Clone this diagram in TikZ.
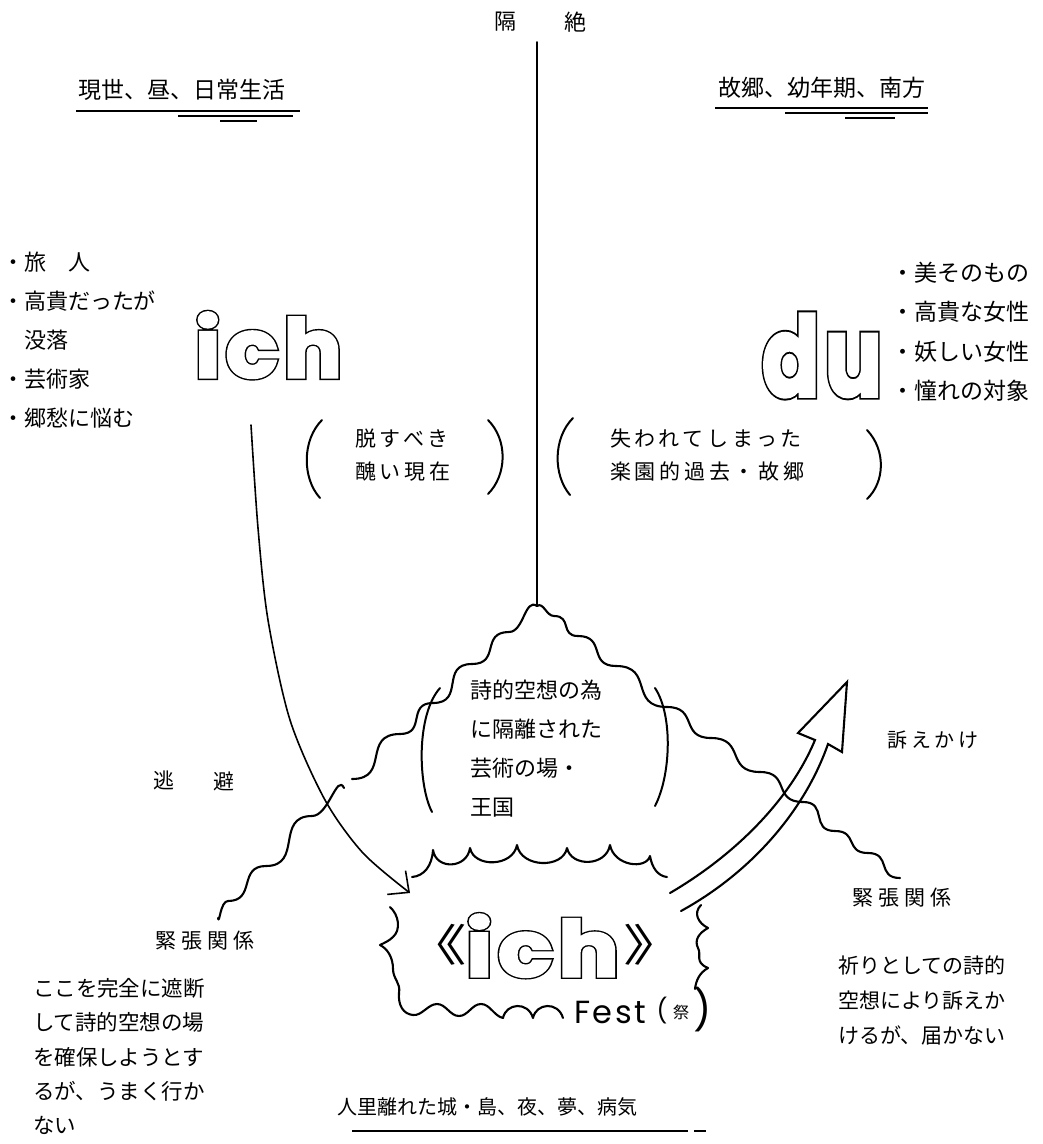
\documentclass[tikz,border=0pt]{standalone}
\usepackage{fontspec}
\usetikzlibrary{arrows.meta}
\setmainfont{Noto Sans CJK JP}
\newfontfamily\jp{Noto Sans CJK JP}
\newfontfamily\jpsp[LetterSpace=18]{Noto Sans CJK JP}
\newfontfamily\jpwide[LetterSpace=25]{Noto Sans CJK JP}
\newfontfamily\olbk[FakeBold=6.5,LetterSpace=6]{Poppins}
\newfontfamily\olwh[FakeBold=3,LetterSpace=6]{Poppins}
\newfontfamily\festfont[LetterSpace=8]{Poppins}
\newcommand\jsz[2]{\fontsize{#1}{#2}\selectfont}
\begin{document}
\begin{tikzpicture}[x=1pt,y=-1pt,
  wav/.style={line width=2.1pt, line cap=round, line join=round},
  thn/.style={line width=1.6pt, line cap=round},
  brk/.style={line width=2pt, line cap=round},
  ul/.style={line width=2.2pt},
  tx/.style={inner sep=0pt, outer sep=0pt},
  jt/.style={tx, font=\jp\jsz{21}{21}},
  jsp/.style={tx, font=\jpsp\jsz{21}{21}},
  olb/.style={tx, anchor=south west, text=black, font=\olbk\bfseries},
  olw/.style={tx, anchor=south west, text=white, font=\olwh\bfseries}]
\fill[white] (0,0) rectangle (1043,1144);
\useasboundingbox (0,0) rectangle (1043,1144);

% ---- top
\node[jt, font=\jp\jsz{22}{22}] (kaku) at (505,22) {隔};
\node[jt, font=\jp\jsz{22}{22}] (zetsu) at (575,22) {絶};
\coordinate (vtop) at (537,42);
\coordinate (peak) at (537,606);
\draw[thn] (vtop) -- (peak);

\node[jt, font=\jp\jsz{23}{23}] (genze) at (182,90) {現世、昼、日常生活};
\draw[ul] (76,111) -- (300,111);
\draw[ul] (178,116) -- (293,116);
\draw[ul] (220,121) -- (257,121);
\node[jt, font=\jp\jsz{23}{23}] (kokyo) at (822,88) {故郷、幼年期、南方};
\draw[ul] (715,108) -- (928,108);
\draw[ul] (785,113) -- (928,113);
\draw[ul] (845,118) -- (895,118);

% ---- lists
\node[jt, anchor=west, align=left, font=\jp\jsz{22}{39}] (ichlist) at (2,340)
  {・旅　人\\・高貴だったが\\\phantom{・}没落\\・芸術家\\・郷愁に悩む};
\node[jt, anchor=west, align=left, font=\jp\jsz{23}{39.5}] (dulist) at (891,332)
  {・美そのもの\\・高貴な女性\\・妖しい女性\\・憧れの対象};

% ---- outlined words
\node[olb] (ichB) at (195,378) {\resizebox{147pt}{65pt}{ich}};
\node[olw] (ich) at (195,378) {\resizebox{147pt}{65pt}{ich}};
\node[olb] (duB) at (762,397) {\resizebox{120pt}{82pt}{du}};
\node[olw] (du) at (762,397) {\resizebox{120pt}{82pt}{du}};

% ---- bracketed texts
\node[jsp, anchor=west, align=left, font=\jpsp\jsz{21}{33}] (present) at (355,455) {脱すべき\\醜い現在};
\draw[brk] (322,420) .. controls (302,440) and (302,478) .. (320,498);
\draw[brk] (488,420) .. controls (508,440) and (507,475) .. (488,494);
\node[jsp, anchor=west, align=left, font=\jpsp\jsz{21}{33}] (past) at (610,455) {失われてしまった\\楽園的過去・故郷};
\draw[brk] (573,418) .. controls (553,438) and (553,475) .. (570,495);
\draw[brk] (867,430) .. controls (886,450) and (885,482) .. (867,499);

% ---- mountain
\coordinate (lEndA) at (352,779);
\coordinate (lStartB) at (344,788);
\coordinate (lEnd) at (218,918);
\coordinate (rEnd) at (900,878);
\draw[wav] (peak) to[out=35,in=180] (554,616)
  to[out=0,in=180,looseness=1.5] (578,636)
  to[out=0,in=180,looseness=1.5] (616,666)
  to[out=0,in=180,looseness=1.5] (667,707)
  to[out=0,in=180,looseness=1.5] (711,738)
  to[out=0,in=180,looseness=1.5] (760,772)
  to[out=0,in=180,looseness=1.5] (803,802)
  to[out=0,in=180,looseness=1.5] (835,831)
  to[out=0,in=180,looseness=1.5] (868,853)
  to[out=0,in=180,looseness=1.5] (rEnd);
\draw[wav] (peak) to[out=145,in=0] (509,632)
  to[out=180,in=0,looseness=1.5] (472,664)
  to[out=180,in=0,looseness=1.5] (433,703)
  to[out=180,in=0,looseness=1.5] (400,734)
  to[out=180,in=0,looseness=1.5] (lEndA);
\draw[wav] (lStartB) to[out=115,in=0] (312,816)
  to[out=180,in=0,looseness=1.4] (266,866)
  to[out=180,in=0,looseness=1.4] (228,901)
  to[out=180,in=-80] (lEnd);

\node[jt, anchor=west, align=left, font=\jp\jsz{22}{39}] (realm) at (470,748.5)
  {詩的空想の為\\に隔離された\\芸術の場・\\王国};
\draw[brk] (440,688) .. controls (416,715) and (418,785) .. (432,812);
\draw[brk] (655,688) .. controls (673,715) and (671,775) .. (655,806);
\draw[wav] (412,877) .. controls (424,876) and (432,866) .. (433,850)
  .. controls (436,870) and (467,869) .. (470,848)
  .. controls (474,868) and (513,867) .. (517,845)
  .. controls (521,868) and (563,869) .. (567,848)
  .. controls (571,867) and (606,867) .. (610,845)
  .. controls (614,866) and (646,870) .. (650,856)
  .. controls (652,868) and (658,876) .. (667,877);

% ---- side labels
\node[jt] (to) at (164,780) {逃};
\node[jt] (hi) at (224,781) {避};
\node[jsp, font=\jpsp\jsz{20}{20}] (uttae) at (933,740) {訴えかけ};
\node[tx, font=\jpwide\jsz{21}{21}] (kinchoL) at (205,941) {緊張関係};
\node[tx, font=\jpwide\jsz{21}{21}] (kinchoR) at (902,898) {緊張関係};
\node[jt, anchor=west, align=left, font=\jp\jsz{21.5}{34.3}] (noteL) at (33,1056.5)
  {ここを完全に遮断\\して詩的空想の場\\を確保しようとす\\るが、うまく行か\\ない};
\node[jt, anchor=west, align=left, font=\jp\jsz{21}{35}] (noteR) at (838,1000)
  {祈りとしての詩的\\空想により訴えか\\けるが、届かない};
\node[jt, font=\jp\jsz{20}{20}] (bottom) at (487,1107) {人里離れた城・島、夜、夢、病気};
\draw[ul] (352,1131) -- (688,1131);
\draw[ul] (694,1131) -- (706,1131);

% ---- Fest
\node[jt, font=\jp\jsz{44}{44}] (lq) at (436,945) {\scalebox{1.4}[1]{《}};
\node[olb] (ich2B) at (466,977) {\resizebox{153pt}{62pt}{ich}};
\node[olw] (ich2) at (466,977) {\resizebox{153pt}{62pt}{ich}};
\node[jt, font=\jp\jsz{44}{44}] (rq) at (654,945) {\scalebox{1.4}[1]{》}};
\node[tx, anchor=base west, font=\festfont\jsz{32}{32}] (fest) at (574,1023) {Fest};
\node[tx, font=\festfont\jsz{24}{24}] (po) at (662,1011) {(};
\node[jt, font=\jp\jsz{16}{16}] (matsuri) at (681,1012) {祭};
\node[tx, font=\festfont\jsz{40}{40}] (pc) at (703,1010) {)};
\draw[wav] (390,907) .. controls (399,915) and (401,930) .. (393,937)
  .. controls (389,941) and (384,943) .. (380,945)
  .. controls (388,949) and (393,958) .. (393,969)
  .. controls (393,979) and (401,983) .. (399,993)
  .. controls (398,1005) and (403,1014) .. (413,1015)
  .. controls (422,1016) and (428,1004) .. (437,1004)
  .. controls (446,1004) and (450,1016) .. (459,1016)
  .. controls (468,1016) and (472,1004) .. (481,1004)
  .. controls (490,1004) and (494,1016) .. (503,1018)
  .. controls (506,1003) and (528,1001) .. (533,1018)
  .. controls (536,1003) and (558,1001) .. (563,1018);
\draw[wav] (701,905) .. controls (693,913) and (698,923) .. (708,928)
  .. controls (699,933) and (694,940) .. (698,948)
  .. controls (702,955) and (694,962) .. (708,968)
  .. controls (699,973) and (696,981) .. (695,989);

% ---- arrows
\coordinate (ichTail) at (251,425);
\coordinate (ichTip) at (410,893);
\draw[thn, -{Straight Barb[length=16pt,width=30pt]}] plot[smooth] coordinates
  {(ichTail) (258,528) (268,620) (290,720) (325,800) (363,853) (ichTip)};
\coordinate (apA) at (670,893);
\coordinate (apB) at (681,911);
\draw[wav, line join=miter] (apA) .. controls (735,855) and (790,800) .. (815,740)
  -- (798,733) -- (847,682) -- (842,752) -- (828,744)
  .. controls (805,810) and (752,872) .. (apB);
\end{tikzpicture}
\end{document}
